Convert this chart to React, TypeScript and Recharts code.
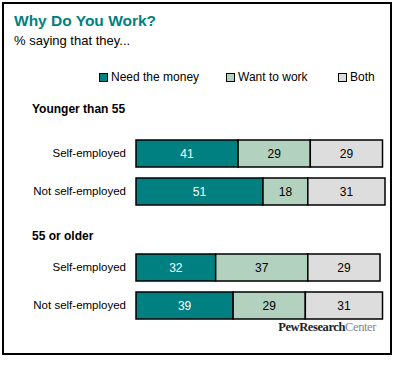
import React from "react";
import { BarChart, Bar, XAxis, YAxis, LabelList } from "recharts";

const rowIds = ["h1", "a1", "a2", "h2", "b1", "b2"];
const rowLabels = ["Younger than 55", "Self-employed", "Not self-employed", "55 or older", "Self-employed", "Not self-employed"];
const headerRows = ["h1", "h2"];
const headerShift = { h1: -6, h2: 6.5 } as Record<string, number>;
const needMoney = [null, 41, 51, null, 32, 39];
const wantWork = [null, 29, 18, null, 37, 29];
const both = [null, 29, 31, null, 29, 31];
const seriesNames = ["Need the money", "Want to work", "Both"];
const seriesColors = ["#008080", "#B3D1BF", "#DDDDDD"];

const data = rowIds.map((id, i) => ({
  id,
  label: rowLabels[i],
  need: needMoney[i],
  want: wantWork[i],
  both: both[i],
}));

const FONT = "'Liberation Sans', Arial, sans-serif";

const Tick = (props: any) => {
  const { x, y, payload } = props;
  const idx = rowIds.indexOf(payload.value);
  const label = rowLabels[idx];
  if (headerRows.includes(payload.value)) {
    return (
      <text x={32} y={y + headerShift[payload.value]} dy={4} textAnchor="start" fontSize={12} fontWeight="bold" fill="#000" fontFamily={FONT}>
        {label}
      </text>
    );
  }
  return (
    <text x={x} y={y} dy={4} textAnchor="end" fontSize={11.5} fill="#000" fontFamily={FONT}>
      {label}
    </text>
  );
};

const legendLeft = [99, 226, 338];

export default function App() {
  return (
    <div style={{ position: "absolute", left: 0, top: 0, width: 398, height: 365, background: "#fff", fontFamily: FONT }}>
      <div style={{ position: "absolute", left: 2, top: 2, width: 386, height: 349, border: "2px solid #000" }} />
      <div style={{ position: "absolute", left: 14, top: 12, fontSize: 15.5, fontWeight: "bold", color: "#008080", lineHeight: "18px" }}>
        Why Do You Work?
      </div>
      <div style={{ position: "absolute", left: 14, top: 33, fontSize: 13, color: "#000", lineHeight: "16px" }}>
        % saying that they...
      </div>
      {seriesNames.map((n, i) => (
        <div key={n} style={{ position: "absolute", left: legendLeft[i], top: 70, fontSize: 12, lineHeight: "15px", display: "flex", alignItems: "center" }}>
          <span style={{ display: "inline-block", width: 7, height: 7, background: seriesColors[i], border: "1px solid #000", marginRight: 3 }} />
          <span>{n}</span>
        </div>
      ))}
      <div style={{ position: "absolute", left: 0, top: 0 }}>
        <BarChart
          width={398}
          height={365}
          data={data}
          layout="vertical"
          margin={{ top: 96, right: 13, bottom: 41, left: 0 }}
          barCategoryGap={0}
        >
          <XAxis type="number" domain={[0, 100]} hide />
          <YAxis
            type="category"
            dataKey="id"
            width={136}
            tickLine={false}
            axisLine={false}
            tickSize={0}
            tickMargin={10}
            tick={<Tick />}
            interval={0}
          />
          <Bar dataKey="need" stackId="s" fill={seriesColors[0]} stroke="#000" strokeWidth={1.5} barSize={27} isAnimationActive={false}>
            <LabelList dataKey="need" position="center" fill="#fff" fontSize={12} fontFamily={FONT} />
          </Bar>
          <Bar dataKey="want" stackId="s" fill={seriesColors[1]} stroke="#000" strokeWidth={1.5} barSize={27} isAnimationActive={false}>
            <LabelList dataKey="want" position="center" fill="#000" fontSize={12} fontFamily={FONT} />
          </Bar>
          <Bar dataKey="both" stackId="s" fill={seriesColors[2]} stroke="#000" strokeWidth={1.5} barSize={27} isAnimationActive={false}>
            <LabelList dataKey="both" position="center" fill="#000" fontSize={12} fontFamily={FONT} />
          </Bar>
        </BarChart>
      </div>
      <div style={{ position: "absolute", right: 22, top: 320, fontFamily: "'Liberation Serif', 'Times New Roman', serif", fontSize: 12.5, lineHeight: "14px", letterSpacing: -0.4 }}>
        <span style={{ color: "#222", fontWeight: "bold" }}>PewResearch</span>
        <span style={{ color: "#888" }}>Center</span>
      </div>
    </div>
  );
}
